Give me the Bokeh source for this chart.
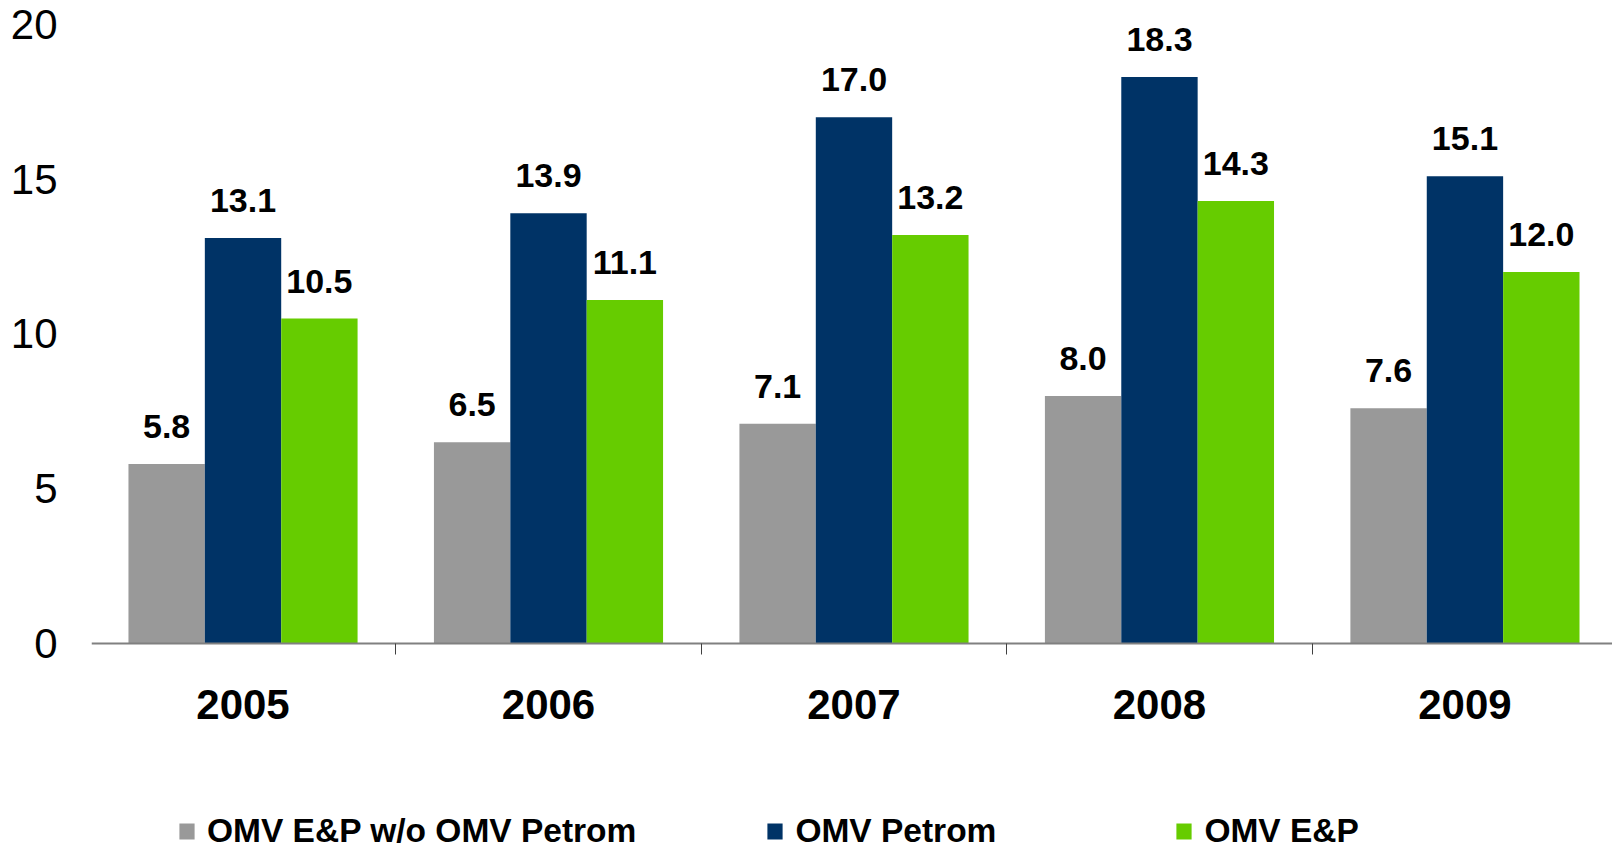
from bokeh.plotting import figure
from bokeh.models import ColumnDataSource, Range1d, FixedTicker, Legend, LegendItem
from bokeh.transform import dodge
from bokeh.core.properties import value
from bokeh.embed import file_html
from bokeh.resources import INLINE

# ---- data ----
years = ["2005", "2006", "2007", "2008", "2009"]
ep_wo_petrom = [5.8, 6.5, 7.1, 8.0, 7.6]
omv_petrom = [13.1, 13.9, 17.0, 18.3, 15.1]
omv_ep = [10.5, 11.1, 13.2, 14.3, 12.0]
series_names = ["OMV E&P w/o OMV Petrom", "OMV Petrom", "OMV E&P"]
y_ticks = [0, 5, 10, 15, 20]

colors = ["#999999", "#003366", "#66cc00"]
FONT = "Liberation Sans"

xc = [i + 0.5 for i in range(len(years))]
src = ColumnDataSource(dict(
    x=xc,
    a=ep_wo_petrom, b=omv_petrom, c=omv_ep,
    la=[f"{v:.1f}" for v in ep_wo_petrom],
    lb=[f"{v:.1f}" for v in omv_petrom],
    lc=[f"{v:.1f}" for v in omv_ep],
))

# frame runs down to the bottom so the legend sits inside it;
# the x axis is pinned at y = 0
p = figure(width=1612, height=850,
           x_range=Range1d(0.004, 4.983), y_range=Range1d(-6.69, 20),
           output_backend="svg", toolbar_location=None,
           min_border_left=91, min_border_right=0,
           min_border_top=24, min_border_bottom=0)
p.outline_line_color = None
p.grid.visible = False
p.background_fill_color = "white"

offsets = [-0.25, 0.0, 0.25]
renderers = []
for col, lab, off, colr in zip(["a", "b", "c"], ["la", "lb", "lc"], offsets, colors):
    r = p.vbar(x=dodge("x", off), top=col, bottom=0, width=0.25, source=src,
               fill_color=colr, line_color=None)
    renderers.append(r)
    p.text(x=dodge("x", off), y=col, text=lab, source=src,
           text_align="center", text_baseline="bottom", y_offset=-26,
           text_font=value(FONT), text_font_style="bold",
           text_font_size="34px", text_color="black")

# x axis: labels at centers (major), ticks at boundaries (minor)
xa = p.xaxis[0]
xa.fixed_location = 0
xa.ticker = FixedTicker(ticks=xc, minor_ticks=[0, 1, 2, 3, 4, 5])
xa.major_label_overrides = {v: y for v, y in zip(xc, years)}
xa.major_tick_out = 0
xa.major_tick_in = 0
xa.minor_tick_out = 11
xa.minor_tick_in = 0
xa.minor_tick_line_color = "#404040"
xa.axis_line_color = "#808080"
xa.axis_line_width = 2
xa.major_label_standoff = 36
xa.major_label_text_font = FONT
xa.major_label_text_font_style = "bold"
xa.major_label_text_font_size = "42px"
xa.major_label_text_color = "black"

ya = p.yaxis[0]
ya.ticker = FixedTicker(ticks=y_ticks)
ya.axis_line_color = None
ya.major_tick_line_color = None
ya.minor_tick_line_color = None
ya.major_label_standoff = 28
ya.major_label_text_font = FONT
ya.major_label_text_font_size = "42px"
ya.major_label_text_color = "black"

# legend at the bottom
leg = Legend(items=[LegendItem(label=n, renderers=[r]) for n, r in zip(series_names, renderers)],
             location=(86, 0), orientation="horizontal",
             padding=0, margin=0, spacing=129, label_width=250,
             border_line_color=None, background_fill_alpha=0,
             glyph_width=19, glyph_height=20, label_standoff=11,
             label_text_font=FONT, label_text_font_style="bold",
             label_text_font_size="33.5px", label_text_color="black")
p.add_layout(leg, "center")

open("out.html", "w").write(file_html(p, INLINE))
